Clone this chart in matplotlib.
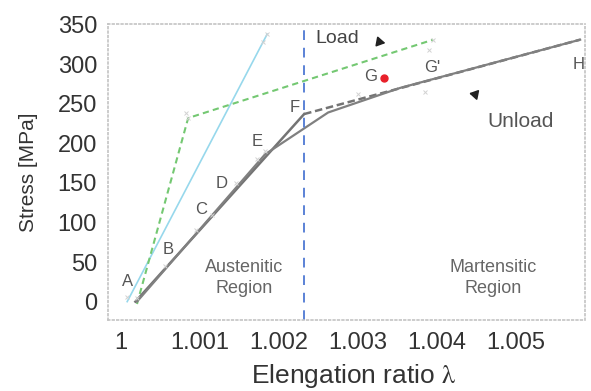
import matplotlib
matplotlib.use("Agg")
import matplotlib.pyplot as plt

plt.rcParams['font.family'] = ['Liberation Sans', 'DejaVu Sans']
plt.rcParams['mathtext.fontset'] = 'stix'

# Elongation ratio / stress paths
cyan_x = [1.000076, 1.001848]
cyan_y = [0, 338]

green_x = [1.00020, 1.000848, 1.00395]
green_y = [-3, 232, 331]

load_x = [1.00018, 1.002316]
load_y = [0, 237]
load_upper_x = [1.002316, 1.00581]
load_upper_y = [237, 331]

unload_x = [1.00581, 1.00353, 1.00262, 1.00182, 1.00020]
unload_y = [331, 270, 239, 186, 0]

boundary_x = 1.002316
g_point = (1.00333, 282)

# Faint measurement markers
mark_x = [1.000076, 1.00020, 1.00055, 1.00095, 1.00115, 1.00145, 1.00172, 1.00182,
          1.001848, 1.00180, 1.000848, 1.00082, 1.00395, 1.0039, 1.00385, 1.00300]
mark_y = [6, 5, 45, 90, 110, 150, 180, 190,
          338, 328, 232, 238, 331, 318, 265, 262]

point_labels = ['A', 'B', 'C', 'D', 'E', 'F', 'G', "G'", 'H']
label_x = [1.000010, 1.000520, 1.000940, 1.001200, 1.001650, 1.002130, 1.003080, 1.003840, 1.005785]
label_y = [26, 66, 116, 149, 202, 245, 284, 296, 300]

xticks = [1.0, 1.001, 1.002, 1.003, 1.004, 1.005]
xticklabels = ['1', '1.001', '1.002', '1.003', '1.004', '1.005']
yticks = [0, 50, 100, 150, 200, 250, 300, 350]

fig = plt.figure(figsize=(5.91, 3.91), dpi=100)
ax = fig.add_axes([0.183, 0.182, 0.807, 0.757])

ax.plot(cyan_x, cyan_y, color='#97d8ec', lw=1.2)
ax.plot(green_x, green_y, color='#74c872', lw=1.5, ls=(0, (3, 2)))
ax.plot(load_x, load_y, color='#747474', lw=1.8)
ax.plot(load_upper_x, load_upper_y, color='#747474', lw=1.8, ls=(0, (3, 1.5)))
ax.plot(unload_x, unload_y, color='#808080', lw=1.6)
ax.plot(mark_x, mark_y, ls='none', marker='x', ms=3.5, mew=0.7, color='#d2d2d2')

ax.axvline(boundary_x, color='#5b82d6', lw=1.4, ls=(0, (5, 4)))
ax.plot([g_point[0]], [g_point[1]], 'o', color='#e8202a', ms=5)

for t, x, y in zip(point_labels, label_x, label_y):
    ax.text(x, y, t, fontsize=12, color='#555555', ha='left' if t != 'H' else 'center',
            va='center')

ax.text(1.00246, 332, 'Load', fontsize=14, color='#444444', va='center')
ax.annotate('', xy=(1.00338, 326), xytext=(1.00322, 329),
            arrowprops=dict(arrowstyle='-|>,head_length=0.5,head_width=0.3', color='#222222', lw=1.2))
ax.text(1.00505, 228, 'Unload', fontsize=15, color='#555555', ha='center', va='center')
ax.annotate('', xy=(1.00437, 264), xytext=(1.00452, 261),
            arrowprops=dict(arrowstyle='-|>,head_length=0.5,head_width=0.3', color='#222222', lw=1.2))

ax.text(1.00156, 30, 'Austenitic\nRegion', fontsize=13, color='#666666',
        ha='center', va='center', linespacing=1.3)
ax.text(1.00471, 30, 'Martensitic\nRegion', fontsize=13, color='#666666',
        ha='center', va='center', linespacing=1.3)

ax.set_xlim(0.999835, 1.005873)
ax.set_ylim(-23, 351)
ax.set_xticks(xticks)
ax.set_xticklabels(xticklabels)
ax.set_yticks(yticks)
ax.tick_params(length=0, labelsize=17, labelcolor='#333333')
ax.tick_params(axis='x', pad=9)
ax.tick_params(axis='y', pad=8)

for s in ax.spines.values():
    s.set_linestyle(':')
    s.set_color('#c4c4c4')
    s.set_linewidth(1.2)

ax.set_xlabel(r'Elengation ratio $\mathrm{\lambda}$', fontsize=19, color='#333333', va='center')
ax.xaxis.set_label_coords(0.516, -0.19)
ax.set_ylabel('Stress [MPa]', fontsize=15, color='#333333', va='center')
ax.yaxis.set_label_coords(-0.168, 0.5)

fig.savefig('out.png', dpi=100, facecolor='white')
